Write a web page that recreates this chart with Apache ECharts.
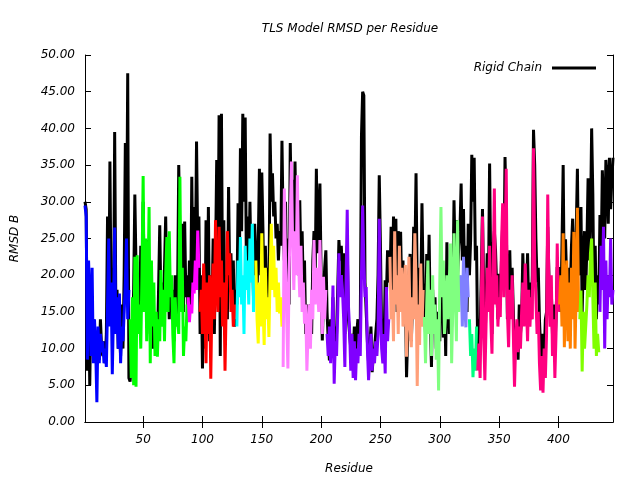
<!DOCTYPE html>
<html><head><meta charset="utf-8">
<script src="https://cdn.jsdelivr.net/npm/echarts@6/dist/echarts.min.js"></script>
<style>html,body{margin:0;padding:0;background:#fff}#c{width:640px;height:480px}</style>
</head><body><div id="c"></div>
<script>
// Tick labels
const xTicks = [50, 100, 150, 200, 250, 300, 350, 400];
const residueMin = 1;
const residueMax = 446;

// Rigid chain RMSD B per residue (residues 1..446)
const rigidChain = [
  30, 29, 7, 19, 5, 16, 9, 14, 9, 11, 8, 12.5, 8.5, 14, 10, 9, 11, 8, 12, 28, 14, 35.5, 16, 21, 12, 39.5, 15, 18, 10, 13, 9, 16, 10, 20, 38, 22, 47.5, 6,
  5.5, 8, 12, 18, 31, 21, 14, 19, 13, 24, 16, 30, 17, 20, 24.8, 15, 21, 12, 17, 10, 15, 11, 14, 10, 18, 26.8, 16, 19, 14, 21, 28, 17, 21, 14, 19, 16, 18, 11, 20, 14, 17, 35, 25, 18, 27, 15, 27.3, 17, 20,
  14, 22, 15, 33.4, 18, 29.3, 21, 38.2, 24, 28,
  12, 20, 7.3, 18, 10, 27.5, 14, 29.3, 11, 20, 15, 25, 12, 22, 35.7, 19, 41.8, 9, 42, 16, 27.5, 12, 20, 14, 32, 19, 23, 17, 22, 13, 18,
  16, 29.8, 20, 37.3, 26, 42, 30, 41.5, 22, 28, 19, 30, 21, 26, 17, 27,
  27, 18, 24, 34.5, 20, 34, 26, 14, 24, 18, 21, 16, 39.3, 30, 33.9, 28, 30, 25, 27, 22, 26, 24, 38.3,
  27, 22, 30, 19, 25, 16, 38, 27, 33, 22, 35.5, 25, 28, 20, 30.2, 21, 26, 18, 22, 12, 16, 11, 13, 16, 12, 22, 26, 20, 34.5, 23, 28, 32.5, 20, 11.1, 17, 21, 23.4,
  15, 11, 8.4, 14, 10, 17, 9, 13, 12, 18, 24.8, 22, 24, 20, 23, 12, 21, 24, 14, 12, 10, 12, 9, 13, 8, 12, 14, 11, 13, 39, 45, 44.5, 19, 15, 11, 8, 10, 13, 6.8, 9, 10, 12, 14, 20, 33.6, 24, 12, 14, 10, 19.3, 17, 23.4, 20,
  19, 26.6, 17, 28, 22, 27.7, 15, 26, 20, 25.9, 17, 22, 14, 18, 6.1, 12, 20, 22.9, 11, 16, 26.6, 22, 33.9, 18, 14, 21, 17, 29.8, 19,
  16, 12, 22.9, 17, 25.5, 14, 7.5, 18, 13, 17, 10, 15, 14.8, 11, 22, 20, 11.5, 18, 9, 24.5, 16, 12, 21, 13, 18, 30.2, 22, 27.5, 20, 24, 26,
  32.5, 22, 29, 18, 24, 15, 27,
  20, 24.8, 36.4, 30, 36, 22, 24,
  9, 14, 12, 20, 29, 18, 10, 16, 23, 18, 35.2, 20, 12, 24, 26, 23.4, 18, 14, 20.2, 16, 22, 27, 20, 36.1, 28, 14, 17, 23.4, 16, 21, 15, 9, 12, 11, 8.5, 16, 12, 14, 23, 16, 20, 17, 23, 15, 19, 14, 20, 39.8, 35, 25, 19, 21, 14, 10, 8, 12, 9, 14, 15, 26.6, 20, 15, 18, 12, 16, 10, 14, 21.1, 17,
  21.1, 15, 24, 35, 17, 24.9, 19, 14, 21, 18, 24, 27.7, 20, 22, 26, 34.5, 20,
  21, 29.3, 15, 22, 26, 18, 24, 33.2, 22, 27, 40, 31, 15, 24, 14, 20, 16,
  28.2, 22, 34.3, 30, 25, 35.7, 33, 27, 36, 29, 33, 36
];

// TLS group RMSD B values, one array per TLS segment
const tls01 = [29.5, 28, 8.5, 22, 17, 9, 21, 8, 14, 10, 2.7, 13, 8, 12, 9.5, 11, 8, 10, 7.5, 16, 25, 13, 19, 6.5, 15, 26.5, 12, 17, 10, 17.5, 8, 13, 11, 15, 19, 25, 14, 18];
const tls02 = [14, 6, 17, 5, 22.5, 4.8, 22.7, 12, 16, 10, 20, 33.5, 15, 25, 11, 18, 29.3, 8, 22, 13, 19, 9, 15, 8.9, 14, 11, 20.7, 13, 18, 11, 20, 25.2, 15, 26, 17, 20, 12, 8, 17, 13, 14, 12, 33.4, 15, 21, 9, 13, 11, 16];
const tls03 = [17, 13.6, 16, 14.8, 19, 17.5, 22, 18, 26.1, 21];
const tls04 = [15, 18, 12, 21.6, 16, 8, 19, 12, 20, 5.9, 17, 21.6, 14, 27.5, 18, 15, 26.6, 17, 22, 13, 19, 7, 16, 26, 20, 23, 15, 18, 13, 16, 14];
const tls05 = [13, 22, 17, 25.2, 16, 20, 12, 24, 18, 22, 16, 25, 19, 27, 15, 20];
const tls06 = [22, 14, 10.7, 19, 13, 25.7, 16, 10.5, 21, 14, 17, 11.6, 20, 27, 18, 24, 17, 21, 15, 19, 14.8, 17, 13];
const tls07 = [7.5, 31.8, 22, 14, 7.3, 20, 28, 35.5, 24, 18, 26, 20, 33.6, 22, 17, 24, 15, 19, 13.4, 16, 7, 12, 16, 10, 18, 14, 24.8, 16, 21, 18, 15, 24.8, 17, 12, 19.8, 14, 18];
const tls08 = [12, 9, 13, 8, 12, 18.6, 5.2, 11, 9, 15, 23, 17, 20, 18, 14, 7.5, 19, 28.9, 16, 12.5, 7, 12, 6, 11, 5.7, 10, 8, 12, 9, 20, 29.5, 22, 17, 18.4, 10, 5.7, 9, 12, 7, 10, 8, 11, 9, 12, 27.7, 16, 10, 8, 12, 6.6, 18.4, 11, 14];
const tls09 = [22.5, 14, 18, 11, 26, 16, 20, 12, 24, 15, 21, 13, 18, 21.4, 8.9, 15, 22.5, 13, 10.2, 17, 14, 25.7, 19, 4.9, 16, 10.5, 21.6, 13, 18];
const tls10 = [14.3, 8, 16, 22, 12, 18, 9, 20, 12, 16, 8.5, 14, 4.3, 19, 29.3, 17, 22, 12, 15, 20, 14, 19, 24.3, 8, 16, 25.7, 18, 11, 27.5, 15, 20];
const tls11 = [20, 13, 22.5, 16, 12.9, 21, 17];
const tls12 = [14, 9, 12, 6.1, 10, 7, 13];
const tls13 = [7, 10.7, 6, 16, 28, 12, 5.7, 13, 21, 15, 24, 14, 9.3, 20, 31.8, 16, 20, 13, 17, 14.3, 24, 29.8, 17, 22, 34.5, 15, 10.2, 18, 14, 20, 12, 4.8, 11, 14, 9.5, 13, 10, 15, 19, 13, 21.6, 16, 11, 18, 13, 17, 14, 37.3, 22, 17, 12, 15, 8, 4.3, 9, 4, 10, 6, 12, 31, 18, 13, 20, 9, 14, 6, 12, 24.3, 15];
const tls14 = [16, 20, 13, 25.7, 10.2, 18, 22, 11, 19, 10, 21, 14, 25.9, 10, 18, 29.2, 15];
const tls15 = [14, 17.9, 6.9, 15, 10, 13, 16, 20, 17, 23, 25, 17, 10, 19, 9, 12, 9.5];
const tls16 = [15, 24, 18, 26.6, 10, 22, 14, 20, 17, 25, 16, 18];

// First residue of each TLS segment
const tlsStarts = [1, 39, 88, 98, 129, 145, 168, 205, 258, 287, 318, 325, 332, 401, 418, 435];
const tlsSegments = [tls01, tls02, tls03, tls04, tls05, tls06, tls07, tls08, tls09, tls10, tls11, tls12, tls13, tls14, tls15, tls16];
const tlsColors = ['#0000ff', '#00ff00', '#ff00ff', '#ff0000', '#00ffff', '#ffff00', '#ff80ff', '#8000ff',
                   '#ffa07a', '#80ff80', '#8080ff', '#00ff80', '#ff0080', '#ff8000', '#80ff00', '#8000ff'];

const FONT = 'DejaVu Sans';
const txt = { fontFamily: FONT, fontStyle: 'italic', fontSize: 12, color: '#000' };

const series = [];
series.push({
  name: 'Rigid Chain', type: 'line', symbol: 'none', animation: false,
  lineStyle: { color: '#000', width: 3, join: 'bevel' }, itemStyle: { color: '#000' },
  data: rigidChain.map((v, i) => [residueMin + i, v]), z: 2
});
tlsSegments.forEach((seg, k) => {
  series.push({
    name: 'TLS ' + (k + 1), type: 'line', symbol: 'none', animation: false,
    lineStyle: { color: tlsColors[k], width: 3, join: 'bevel' }, itemStyle: { color: tlsColors[k] },
    data: seg.map((v, i) => [tlsStarts[k] + i, v]), z: 3
  });
});

const axisLineStyle = { show: true, lineStyle: { color: '#000', width: 1 } };
const chart = echarts.init(document.getElementById('c'), null, { renderer: 'canvas' });
chart.setOption({
  animation: false,
  backgroundColor: '#fff',
  title: {
    text: 'TLS Model RMSD per Residue', left: 345, top: 18, textAlign: 'center',
    textStyle: { fontFamily: FONT, fontStyle: 'italic', fontWeight: 'normal', fontSize: 12, color: '#000' }
  },
  legend: {
    data: [{ name: 'Rigid Chain', icon: 'rect' }],
    right: 39, top: 57, align: 'right', itemWidth: 44, itemHeight: 3,
    textStyle: Object.assign({ padding: [0, 5, 0, 0] }, txt)
  },
  grid: { left: 85, right: 27, top: 55, bottom: 58, containLabel: false },
  xAxis: [
    {
      type: 'value', min: residueMin, max: residueMax, position: 'bottom',
      axisLine: axisLineStyle,
      axisTick: { show: true, inside: true, length: 6, customValues: xTicks, lineStyle: { color: '#000' } },
      axisLabel: Object.assign({ customValues: xTicks, margin: 12 }, txt),
      splitLine: { show: false },
      name: 'Residue', nameLocation: 'middle', nameGap: 41, nameTextStyle: txt
    },
    {
      type: 'value', min: residueMin, max: residueMax, position: 'top',
      axisLine: axisLineStyle,
      axisTick: { show: true, inside: true, length: 6, customValues: xTicks, lineStyle: { color: '#000' } },
      axisLabel: { show: false }, splitLine: { show: false }
    }
  ],
  yAxis: [
    {
      type: 'value', min: 0, max: 50, interval: 5, position: 'left',
      axisLine: axisLineStyle,
      axisTick: { show: true, inside: true, length: 6, lineStyle: { color: '#000' } },
      axisLabel: Object.assign({ margin: 10, formatter: v => v.toFixed(2) }, txt),
      splitLine: { show: false },
      name: 'RMSD B', nameLocation: 'middle', nameGap: 64, nameRotate: 90, nameTextStyle: txt
    },
    {
      type: 'value', min: 0, max: 50, interval: 5, position: 'right',
      axisLine: axisLineStyle,
      axisTick: { show: true, inside: true, length: 6, lineStyle: { color: '#000' } },
      axisLabel: { show: false }, splitLine: { show: false }
    }
  ],
  series: series
});
</script>
</body></html>
